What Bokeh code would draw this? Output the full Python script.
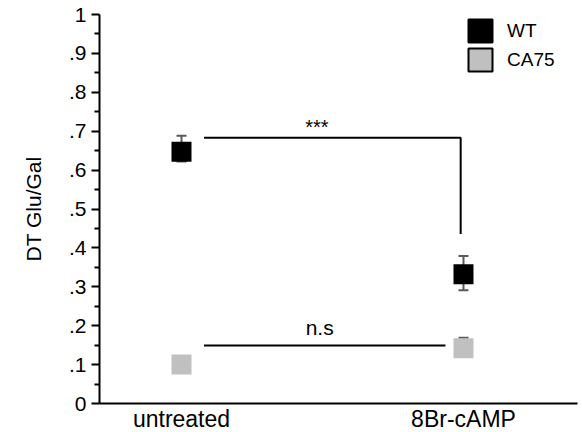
from bokeh.plotting import figure
from bokeh.models import (ColumnDataSource, FixedTicker, Range1d, Whisker, TeeHead,
                          Label, Legend, LegendItem, LinearAxis)
from bokeh.embed import file_html
from bokeh.resources import INLINE

# ---- data ----
categories = ["untreated", "8Br-cAMP"]
cat_pos = [1, 2]
wt_values = [0.647, 0.332]
wt_upper = [0.688, 0.379]
wt_lower = [0.622, 0.291]
ca75_values = [0.100, 0.142]
ca75_upper = [0.115, 0.169]
ca75_lower = [0.085, 0.122]
y_ticks = [0, 0.1, 0.2, 0.3, 0.4, 0.5, 0.6, 0.7, 0.8, 0.9, 1.0]
y_tick_labels = ["0", ".1", ".2", ".3", ".4", ".5", ".6", ".7", ".8", ".9", "1"]
y_minor_ticks = [0.05, 0.15, 0.25, 0.35, 0.45, 0.55, 0.65, 0.75, 0.85, 0.95]

# significance annotations
sig_wt_x = [1.08, 1.99, 1.99]
sig_wt_y = [0.683, 0.683, 0.436]
sig_ca_x = [1.08, 1.936]
sig_ca_y = [0.149, 0.149]

FONT = "Liberation Sans"

p = figure(frame_width=478, frame_height=389, output_backend="svg", toolbar_location=None,
           x_range=Range1d(0.7092, 2.4043), y_range=Range1d(0, 1),
           min_border_left=99, min_border_top=14, min_border_right=2, min_border_bottom=26)
p.outline_line_color = None
p.xgrid.visible = False
p.ygrid.visible = False
p.background_fill_color = "white"
p.border_fill_color = "white"

# y axis
ya = p.yaxis[0]
ya.ticker = FixedTicker(ticks=y_ticks, minor_ticks=y_minor_ticks)
ya.major_label_overrides = {t: l for t, l in zip(y_ticks, y_tick_labels)}
ya.axis_line_width = 2
ya.major_tick_line_width = 2
ya.minor_tick_line_width = 2
ya.major_tick_out = 8
ya.major_tick_in = 0
ya.minor_tick_out = 5
ya.minor_tick_in = 0
ya.major_label_standoff = 5
ya.major_label_text_font = FONT
ya.major_label_text_font_size = "21px"
ya.major_label_text_color = "black"

# y axis title (separate label-only axis)
title_axis = LinearAxis(axis_label="DT Glu/Gal", bounds=(0.1, 1.0),
                        ticker=FixedTicker(ticks=[]), axis_line_color=None,
                        major_tick_line_color=None, minor_tick_line_color=None,
                        major_label_text_font_size="0px",
                        axis_label_standoff=21, axis_label_text_font=FONT,
                        axis_label_text_font_size="21px",
                        axis_label_text_font_style="normal",
                        axis_label_text_color="black")
p.add_layout(title_axis, "left")

# x axis
xa = p.xaxis[0]
xa.ticker = FixedTicker(ticks=cat_pos, minor_ticks=[])
xa.major_label_overrides = {c: l for c, l in zip(cat_pos, categories)}
xa.axis_line_width = 2
xa.major_tick_out = 0
xa.major_tick_in = 0
xa.minor_tick_out = 0
xa.minor_tick_in = 0
xa.major_label_standoff = 2
xa.major_label_text_font = FONT
xa.major_label_text_font_size = "23px"
xa.major_label_text_color = "black"

# error bars
wt_src = ColumnDataSource(dict(x=cat_pos, y=wt_values, upper=wt_upper, lower=wt_lower))
ca_src = ColumnDataSource(dict(x=cat_pos, y=ca75_values, upper=ca75_upper, lower=ca75_lower))
for src in (wt_src, ca_src):
    w = Whisker(base="x", upper="upper", lower="lower", source=src,
                line_color="#5a5a5a", line_width=2,
                upper_head=TeeHead(size=10, line_color="#5a5a5a", line_width=2),
                lower_head=TeeHead(size=10, line_color="#5a5a5a", line_width=2))
    w.level = "underlay"
    p.add_layout(w)

# significance lines
p.line(sig_wt_x, sig_wt_y, line_color="black", line_width=2)
p.line(sig_ca_x, sig_ca_y, line_color="black", line_width=2)
p.add_layout(Label(x=1.48, y=0.712, text="***", text_align="center", text_baseline="middle",
                   text_font=FONT, text_font_size="20px", text_color="black"))
p.add_layout(Label(x=1.49, y=0.195, text="n.s", text_align="center", text_baseline="middle",
                   text_font=FONT, text_font_size="21px", text_color="black"))

# markers
p.scatter("x", "y", source=wt_src, marker="square", size=20, fill_color="black", line_color=None)
p.scatter("x", "y", source=ca_src, marker="square", size=20, fill_color="#c0c0c0", line_color=None)

# legend (proxy renderers)
leg_wt = p.rect("x", "y", width=0.01, height=0.01, source=wt_src, fill_color="black",
                line_color="black", line_width=2)
leg_ca = p.rect("x", "y", width=0.01, height=0.01, source=ca_src, fill_color="#c0c0c0",
                line_color="black", line_width=2)
leg_wt.visible = False
leg_ca.visible = False
legend = Legend(items=[LegendItem(label="WT", renderers=[leg_wt]),
                       LegendItem(label="CA75", renderers=[leg_ca])],
                location=(366, 329), glyph_width=30, glyph_height=29, spacing=0,
                padding=0, margin=0, label_standoff=12, border_line_color=None,
                background_fill_alpha=0, label_text_font=FONT, label_text_font_size="19px",
                label_text_color="black")
p.add_layout(legend)

open("out.html", "w").write(file_html(p, INLINE))
